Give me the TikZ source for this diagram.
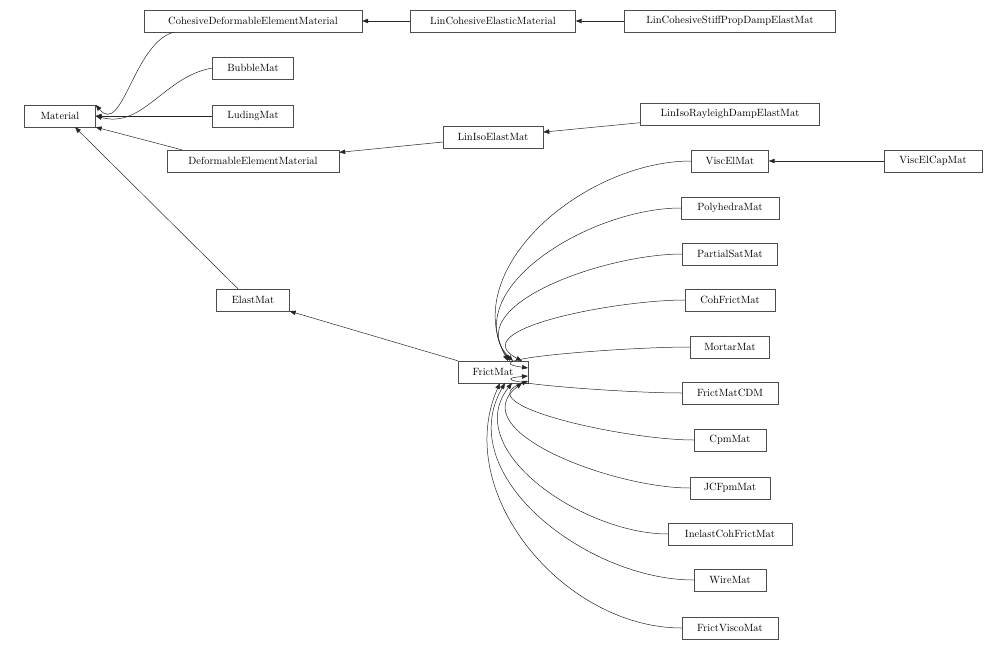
\documentclass[tikz,border=0pt]{standalone}
\usepackage{tikz}
\usetikzlibrary{arrows.meta,calc}
\tikzset{
    cls/.style={draw=black!70, fill=white, inner sep=0pt, minimum height=22pt, font=\fontsize{10.5}{12}\selectfont},
    edge/.style={-{Triangle[length=6pt,width=4.5pt]}, black!85, line width=0.5pt}
}
\begin{document}
\begin{tikzpicture}[x=1pt,y=-1pt]
    \useasboundingbox (0,0) rectangle (1006,650);
    % class boxes
    \node[cls, minimum width=218pt] (cdem) at (253,21) {CohesiveDeformableElementMaterial};
    \node[cls, minimum width=165pt] (lcem) at (493,21) {LinCohesiveElasticMaterial};
    \node[cls, minimum width=211pt] (lcsp) at (730,21) {LinCohesiveStiffPropDampElastMat};
    \node[cls, minimum width=71pt] (mat) at (60,116) {Material};
    \node[cls, minimum width=81pt] (bub) at (253,68) {BubbleMat};
    \node[cls, minimum width=81pt] (lud) at (253,116) {LudingMat};
    \node[cls, minimum width=172pt] (dem) at (253,161) {DeformableElementMaterial};
    \node[cls, minimum width=100pt] (lie) at (493,137) {LinIsoElastMat};
    \node[cls, minimum width=179pt] (lir) at (730,114) {LinIsoRayleighDampElastMat};
    \node[cls, minimum width=73pt] (elm) at (253,300) {ElastMat};
    \node[cls, minimum width=70pt] (fm) at (493,372) {FrictMat};
    \node[cls, minimum width=77pt] (vem) at (730,161) {ViscElMat};
    \node[cls, minimum width=98pt] (vec) at (933,161) {ViscElCapMat};
    % FrictMat children
    \foreach \n/\t/\y/\w/\tx/\ty/\a in {
        ph/PolyhedraMat/208/98/17/-11/-55,
        ps/PartialSatMat/254/95/20/-11/-45,
        cf/CohFrictMat/300/90/29/-11/-28,
        mm/MortarMat/347/79/35/-4/-8,
        cdm/FrictMatCDM/393/96/35/4/5,
        cpm/CpmMat/440/72/35/9/20,
        jcf/JCFpmMat/488/80/29/11/38,
        icf/InelastCohFrictMat/534/124/19/11/52,
        wm/WireMat/580/72/12/11/60,
        fv/FrictViscoMat/628/96/7/11/66} {
        \node[cls, minimum width=\w pt] (\n) at (730,\y) {\t};
        \draw[edge] (\n.west) to[out=180, in=\a+180] ($(fm)+(\tx,\ty)$);
    }
    % connectors
    \draw[edge] (lcem) -- (cdem);
    \draw[edge] (lcsp) -- (lcem);
    \draw[edge] (lir) -- (lie);
    \draw[edge] (lie) -- (dem);
    \draw[edge] (vec) -- (vem);
    \draw[edge] (vem.west) to[out=180, in=118] ($(fm)+(15,-11)$);
    \draw[edge] (cdem.south west) ++(30,0) to[out=195, in=-50] (mat.north east);
    \draw[edge] (bub.west) to[out=190, in=-15] (mat.east);
    \draw[edge] (lud) -- (mat);
    \draw[edge] (dem.north west) ++(15,0) -- (mat.south east);
    \draw[edge] (elm.north) ++(-15,0) -- ($(mat.south)+(15,0)$);
    \draw[edge] (fm.north west) -- (elm.south east);
\end{tikzpicture}
\end{document}
